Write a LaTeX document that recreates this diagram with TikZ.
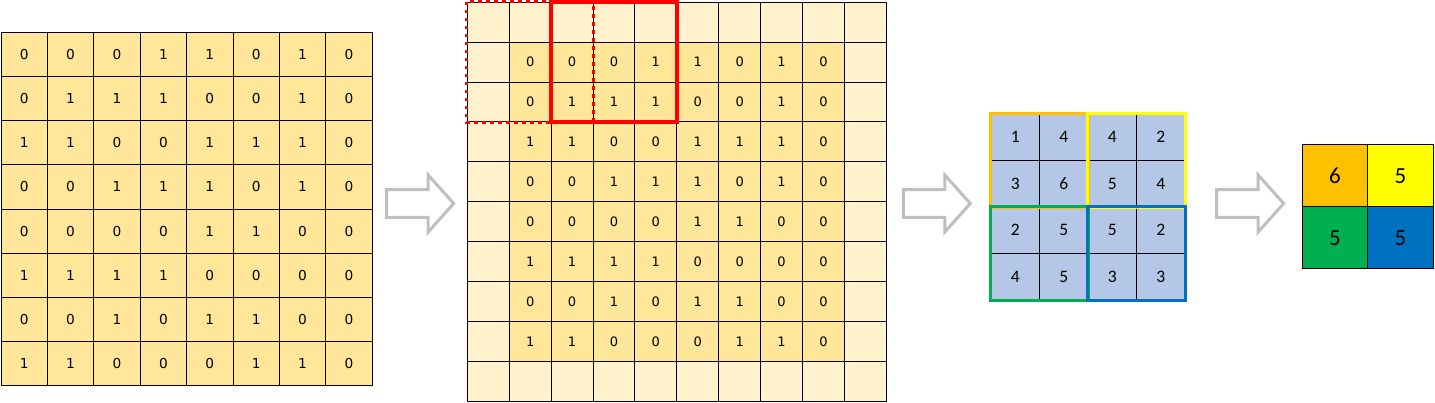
\documentclass[tikz,border=0pt]{standalone}
\usepackage{fontspec}
\setmainfont{DejaVu Sans}
\newfontfamily\calib{Carlito}
\definecolor{goldcell}{HTML}{FFE699}
\definecolor{padcol}{HTML}{FFF2CC}
\definecolor{poolcol}{HTML}{B4C7E7}
\definecolor{orangec}{HTML}{FFC000}
\definecolor{yellowc}{HTML}{FFFF00}
\definecolor{greenc}{HTML}{00B050}
\definecolor{bluec}{HTML}{0070C0}
\definecolor{arrowgray}{HTML}{BFBFBF}
\definecolor{redc}{HTML}{FF0000}
\begin{document}
\begin{tikzpicture}[x=1pt,y=-1pt,
  gridcell/.style={draw=black,line width=1pt,inner sep=0pt,anchor=center},
  incell/.style={gridcell,fill=goldcell,minimum width=46.4pt,minimum height=44.2pt,font=\fontsize{13.7}{15}\selectfont},
  padcell/.style={gridcell,fill=padcol,minimum width=41.9pt,minimum height=39.9pt},
  datacell/.style={gridcell,fill=goldcell,minimum width=41.9pt,minimum height=39.9pt,font=\fontsize{13}{15}\selectfont},
  poolcell/.style={gridcell,fill=poolcol,minimum width=48.5pt,minimum height=46.5pt,font=\calib\fontsize{17.5}{20}\selectfont},
  outcell/.style={gridcell,minimum width=65.5pt,minimum height=62pt,font=\calib\fontsize{23}{27}\selectfont},
  redbox/.style={draw=redc,line width=4pt},
  reddot/.style={draw=redc,line width=3.2pt,dash pattern=on 3.5pt off 4.5pt},
  quadbox/.style={line width=3.5pt},
  blockarrow/.style={draw=arrowgray,fill=white,line width=3pt,line join=miter}
]
\useasboundingbox (0,0) rectangle (1435,403);

% ---------- input grid ----------
\foreach \row [count=\r] in {{0,0,0,1,1,0,1,0},{0,1,1,1,0,0,1,0},{1,1,0,0,1,1,1,0},{0,0,1,1,1,0,1,0},{0,0,0,0,1,1,0,0},{1,1,1,1,0,0,0,0},{0,0,1,0,1,1,0,0},{1,1,0,0,0,1,1,0}}{
  \foreach \v [count=\c] in \row {
    \node[incell] (g-\r-\c) at ({1+46.4*(\c-0.5)},{32.3+44.2*(\r-0.5)}) {\v};
  }
}

% ---------- padded grid ----------
\foreach \r in {1,...,10}{
  \foreach \c in {1,...,10}{
    \node[padcell] (p-\r-\c) at ({467.3+41.9*(\c-0.5)},{2.3+39.9*(\r-0.5)}) {};
  }
}
\foreach \row [count=\r] in {{0,0,0,1,1,0,1,0},{0,1,1,1,0,0,1,0},{1,1,0,0,1,1,1,0},{0,0,1,1,1,0,1,0},{0,0,0,0,1,1,0,0},{1,1,1,1,0,0,0,0},{0,0,1,0,1,1,0,0},{1,1,0,0,0,1,1,0}}{
  \foreach \v [count=\c] in \row {
    \node[datacell] (d-\r-\c) at ({467.3+41.9*(\c+0.5)},{2.3+39.9*(\r+0.5)}) {\v};
  }
}
\draw[reddot] (p-1-1.north west) rectangle (p-3-3.south east);
\draw[redbox] (p-1-3.north west) rectangle (p-3-5.south east);

% ---------- conv output grid ----------
\foreach \row [count=\r] in {{1,4,4,2},{3,6,5,4},{2,5,5,2},{4,5,3,3}}{
  \foreach \v [count=\c] in \row {
    \node[poolcell] (q-\r-\c) at ({991+48.5*(\c-0.5)},{114+46.5*(\r-0.5)}) {\v};
  }
}
\draw[quadbox,draw=orangec] (q-1-1.north west) rectangle (q-2-2.south east);
\draw[quadbox,draw=yellowc] (q-1-3.north west) rectangle (q-2-4.south east);
\draw[quadbox,draw=greenc] (q-3-1.north west) rectangle (q-4-2.south east);
\draw[quadbox,draw=bluec] (q-3-3.north west) rectangle (q-4-4.south east);

% ---------- pooled grid ----------
\node[outcell,fill=orangec] (o-1-1) at ({1302.3+65.5*0.5},{145+62*0.5}) {6};
\node[outcell,fill=yellowc] (o-1-2) at ({1302.3+65.5*1.5},{145+62*0.5}) {5};
\node[outcell,fill=greenc]  (o-2-1) at ({1302.3+65.5*0.5},{145+62*1.5}) {5};
\node[outcell,fill=bluec]   (o-2-2) at ({1302.3+65.5*1.5},{145+62*1.5}) {5};

% ---------- block arrows ----------
\foreach \sx in {386.7,903.3,1216.7}{
  \draw[blockarrow,shift={(\sx,203.5)}] (0,-13.8) -- (41.5,-13.8) -- (41.5,-28.5) -- (67,0) -- (41.5,28.5) -- (41.5,13.8) -- (0,13.8) -- cycle;
}
\end{tikzpicture}
\end{document}
